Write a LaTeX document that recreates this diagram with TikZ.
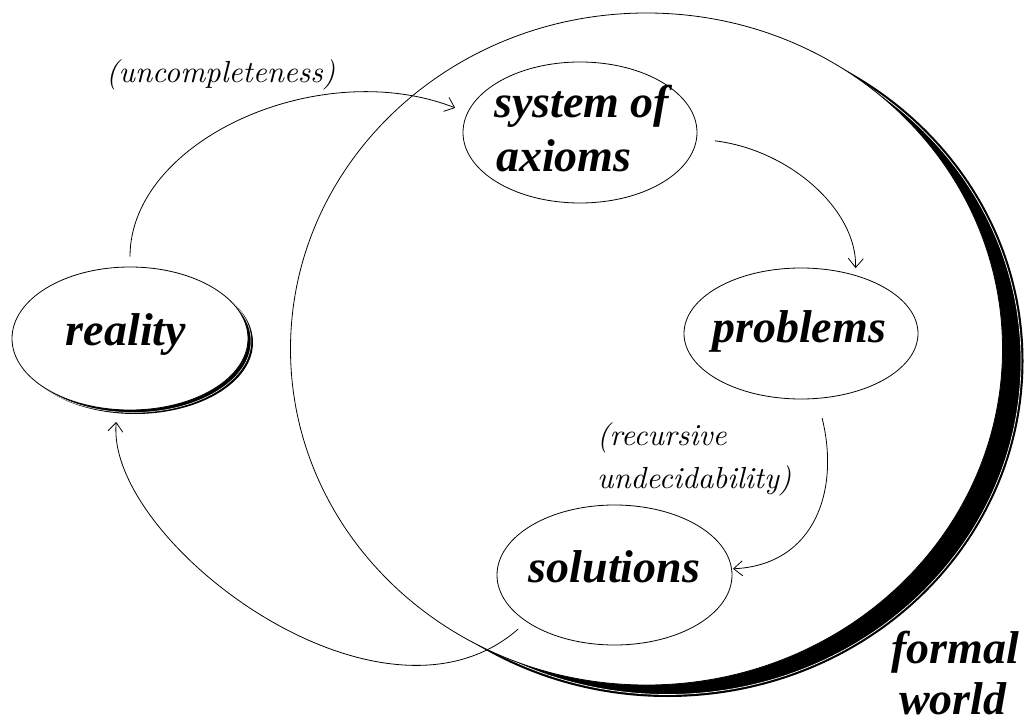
\documentclass[tikz,border=0pt]{standalone}
\usepackage{fontspec}
\newfontfamily\boldserif{Liberation Serif}
\newfontfamily\notefont{lmroman10-italic.otf}
\usetikzlibrary{shapes.geometric,arrows.meta}
\tikzset{
  bubble/.style={draw, ellipse, fill=white, line width=0.8pt, inner sep=0pt},
  bigword/.style={font=\boldserif\bfseries\itshape\fontsize{46}{54}\selectfont, inner sep=0pt},
  note/.style={font=\notefont\fontsize{30.5}{40}\selectfont, inner sep=0pt},
  flow/.style={line width=0.8pt, -{Straight Barb[length=9pt,width=15pt]}},
}
\begin{document}
\begin{tikzpicture}[x=1pt,y=-1pt]
\useasboundingbox (0,0) rectangle (1031,722);
% formal world: shadow and circle
\fill (667.5,361) ellipse [x radius=356pt, y radius=336pt];
\draw[white, line width=0.7pt] (667.5,361) ellipse [x radius=353.5pt, y radius=333.5pt];
\node[bubble, minimum width=712pt, minimum height=672pt] (world) at (646.5,349) {};
% reality: shadow and ellipse
\fill (135,342.5) ellipse [x radius=118pt, y radius=71.5pt];
\draw[white, line width=0.5pt] (133,341) ellipse [x radius=118pt, y radius=71.5pt];
\node[bubble, minimum width=236pt, minimum height=143pt] (reality) at (130,338.5) {};
% other ellipses
\node[bubble, minimum width=234pt, minimum height=141pt] (axioms) at (580,132.5) {};
\node[bubble, minimum width=234pt, minimum height=131pt] (problems) at (801,333.5) {};
\node[bubble, minimum width=235pt, minimum height=140pt] (solutions) at (614.5,575) {};
% texts
\node[bigword, anchor=base] (realityText) at (126,345) {reality};
\node[bigword, anchor=base] (problemsText) at (799,342) {problems};
\node[bigword, anchor=base] (solutionsText) at (614.5,582) {solutions};
\node[bigword, anchor=base west] (axiomsTextA) at (494,118) {system of};
\node[bigword, anchor=base west] (axiomsTextB) at (496,172) {axioms};
\node[bigword, anchor=base west] (worldTextA) at (891,663) {formal};
\node[bigword, anchor=base west] (worldTextB) at (899,714) {world};
\node[note, anchor=base west] (incomp) at (106,83) {(uncompleteness)};
\node[note, anchor=base west] (undecA) at (597,445) {(recursive};
\node[note, anchor=base west] (undecB) at (597,488) {undecidability)};
% connectors
\draw[flow, shorten <=10pt, shorten >=13pt] (reality.north) .. controls (130,140) and (320,55) .. (axioms.170);
\draw[flow, shorten <=18pt, shorten >=7pt] (axioms.-3) .. controls (790,150) and (857,210) .. (problems.47);
\draw[flow, shorten <=20pt, shorten >=1pt] (problems.284) .. controls (840,490) and (815,565) .. (solutions.3);
\draw[flow, shorten <=11pt, shorten >=12pt] (solutions.208) .. controls (380,750) and (105,540) .. (reality.260);
\end{tikzpicture}
\end{document}
